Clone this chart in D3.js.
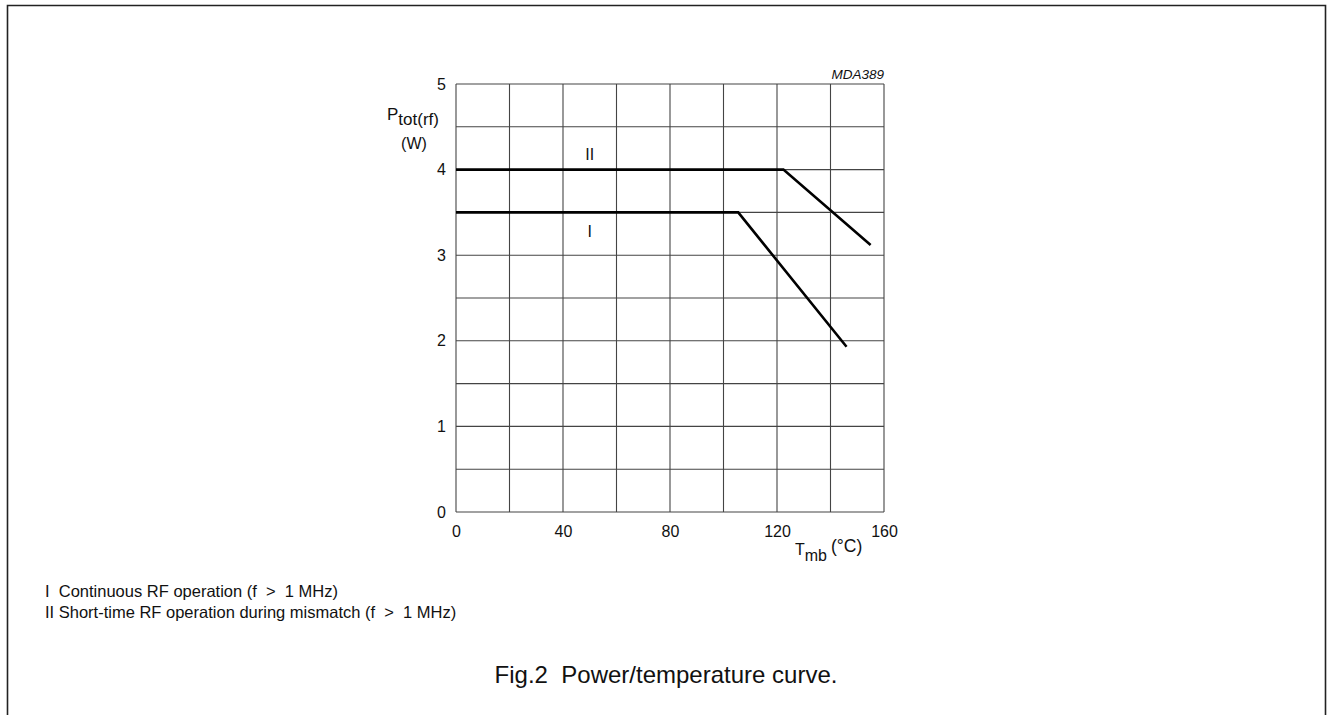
<!DOCTYPE html>
<html>
<head>
<meta charset="utf-8">
<script src="https://cdn.jsdelivr.net/npm/d3@7"></script>
<style>
  body { margin: 0; background: #fff; }
  text { font-family: "Liberation Sans", Arial, sans-serif; fill: #111; }
</style>
</head>
<body>
<div id="wrapper"></div>
<script>
// data
const xTickLabels = [0, 40, 80, 120, 160]
const yTickLabels = [0, 1, 2, 3, 4, 5]
const curveI = [[0, 3.5], [105.5, 3.5], [146, 1.93]]
const curveII = [[0, 4], [122.4, 4], [155, 3.12]]
const curveNames = ["I", "II"]
const legendLines = [
    "I  Continuous RF operation (f  >  1 MHz)",
    "II Short-time RF operation during mismatch (f  >  1 MHz)"
]

function drawChart() {
    let dimensions = {
        width: 1329,
        height: 715,
        margin: { top: 84, right: 445, bottom: 203, left: 456 }
    }
    dimensions.boundedWidth = dimensions.width - dimensions.margin.left - dimensions.margin.right
    dimensions.boundedHeight = dimensions.height - dimensions.margin.top - dimensions.margin.bottom

    const wrapper = d3.select("#wrapper")
        .append("svg")
        .attr("width", dimensions.width)
        .attr("height", dimensions.height)

    // page frame (open at the bottom)
    wrapper.append("path")
        .attr("d", `M7.5,${dimensions.height} V5.5 H1325.5 V${dimensions.height}`)
        .attr("fill", "none")
        .attr("stroke", "#222")
        .attr("stroke-width", 1.6)

    const bounds = wrapper.append("g")
        .attr("transform", `translate(${dimensions.margin.left},${dimensions.margin.top})`)

    const xScale = d3.scaleLinear()
        .domain([0, 160])
        .range([0, dimensions.boundedWidth])

    const yScale = d3.scaleLinear()
        .domain([0, 5])
        .range([dimensions.boundedHeight, 0])

    // grid
    bounds.append("g")
        .selectAll("line")
        .data(xScale.ticks(8))
        .join("line")
        .attr("x1", d => xScale(d)).attr("x2", d => xScale(d))
        .attr("y1", 0).attr("y2", dimensions.boundedHeight)
        .attr("stroke", "#444").attr("stroke-width", 1.1)

    bounds.append("g")
        .selectAll("line")
        .data(yScale.ticks(10))
        .join("line")
        .attr("y1", d => yScale(d)).attr("y2", d => yScale(d))
        .attr("x1", 0).attr("x2", dimensions.boundedWidth)
        .attr("stroke", "#444").attr("stroke-width", 1.1)

    // axes: only labels, no tick marks
    const xAxis = bounds.append("g")
        .attr("transform", `translate(0,${dimensions.boundedHeight})`)
        .call(d3.axisBottom(xScale).tickValues(xTickLabels).tickFormat(d3.format("d")).tickSize(0).tickPadding(14))
    const yAxis = bounds.append("g")
        .call(d3.axisLeft(yScale).tickValues(yTickLabels).tickFormat(d3.format("d")).tickSize(0).tickPadding(10))
    ;[xAxis, yAxis].forEach(a => {
        a.select(".domain").remove()
        a.selectAll("text")
            .style("font-size", "16px")
            .style("font-family", "'Liberation Sans', Arial, sans-serif")
            .attr("fill", "#111")
    })

    // curves
    const lineGenerator = d3.line()
        .x(d => xScale(d[0]))
        .y(d => yScale(d[1]))

    bounds.selectAll(".curve")
        .data([curveI, curveII])
        .join("path")
        .attr("class", "curve")
        .attr("d", lineGenerator)
        .attr("fill", "none")
        .attr("stroke", "#000")
        .attr("stroke-width", 2.6)

    // curve labels
    bounds.append("text")
        .attr("x", xScale(50)).attr("y", yScale(4) - 10)
        .attr("text-anchor", "middle")
        .style("font-size", "16px")
        .text(curveNames[1])
    bounds.append("text")
        .attr("x", xScale(50)).attr("y", yScale(3.5) + 25)
        .attr("text-anchor", "middle")
        .style("font-size", "16px")
        .text(curveNames[0])

    // figure code
    bounds.append("text")
        .attr("x", dimensions.boundedWidth).attr("y", -5)
        .attr("text-anchor", "end")
        .style("font-size", "13.5px")
        .style("font-style", "italic")
        .text("MDA389")

    // y axis title
    const yTitle = wrapper.append("text")
        .attr("x", 387).attr("y", 120)
        .style("font-size", "17px")
    yTitle.append("tspan").text("P")
    yTitle.append("tspan").attr("dy", 5).style("font-size", "17px").text("tot(rf)")
    wrapper.append("text")
        .attr("x", 414).attr("y", 149)
        .attr("text-anchor", "middle")
        .style("font-size", "16px")
        .text("(W)")

    // x axis title
    const xTitle = wrapper.append("text")
        .attr("x", 795).attr("y", 555)
        .style("font-size", "16px")
    xTitle.append("tspan").text("T")
    xTitle.append("tspan").attr("dy", 6).text("mb")
    xTitle.append("tspan").attr("dy", -9).attr("dx", 4).style("font-size", "17.5px").text("(°C)")

    // legend notes
    wrapper.append("g")
        .selectAll("text")
        .data(legendLines)
        .join("text")
        .attr("x", 45)
        .attr("y", (d, i) => 597 + i * 21)
        .style("font-size", "16.5px")
        .style("white-space", "pre")
        .attr("xml:space", "preserve")
        .text(d => d)

    // caption
    wrapper.append("text")
        .attr("x", 666).attr("y", 683)
        .attr("text-anchor", "middle")
        .style("font-size", "24px")
        .attr("xml:space", "preserve")
        .style("white-space", "pre")
        .text("Fig.2  Power/temperature curve.")
}
drawChart()
</script>
</body>
</html>
